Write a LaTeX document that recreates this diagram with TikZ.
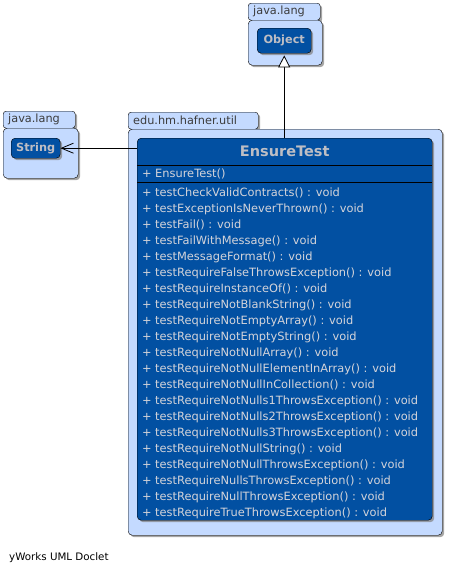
\documentclass[tikz,border=0pt]{standalone}
\usepackage{fontspec}
\setmainfont{DejaVu Sans}
\usetikzlibrary{arrows.meta, shadows}
\definecolor{pkgfill}{RGB}{196,218,255}
\definecolor{pkgtext}{RGB}{60,60,60}
\definecolor{clsfill}{RGB}{2,80,162}
\definecolor{clstext}{RGB}{212,212,218}
\definecolor{clstitle}{RGB}{190,190,196}
\tikzstyle{pkgtab} = [rectangle, rounded corners=3pt, draw=black, fill=pkgfill, anchor=north west, minimum height=17pt, inner xsep=5pt, inner ysep=0pt, align=left, text=pkgtext, font=\fontsize{11.3}{13}\selectfont, drop shadow={shadow xshift=2pt, shadow yshift=-2pt, opacity=.7}]
\tikzstyle{pkgbody} = [rectangle, rounded corners=4pt, draw=black, fill=pkgfill, anchor=north west, drop shadow={shadow xshift=2pt, shadow yshift=-2pt, opacity=.7}]
\tikzstyle{classbox} = [rectangle, rounded corners=4pt, draw=black, fill=clsfill, anchor=north west, text=clstitle, font=\bfseries\fontsize{11.3}{13}\selectfont, drop shadow={shadow xshift=2pt, shadow yshift=-2pt, opacity=.7}]
\tikzstyle{classname} = [inner sep=0pt, text=clstitle, font=\bfseries\fontsize{14.5}{16}\selectfont]
\tikzstyle{members} = [anchor=north west, inner sep=0pt, text=clstext, font=\fontsize{11.4}{16}\selectfont]
\tikzstyle{divider} = [line width=1.2pt, black]
\tikzstyle{inherit} = [-{Triangle[length=12pt, width=12pt, fill=white]}, line width=0.8pt]
\tikzstyle{depend} = [-{Straight Barb[length=12pt, width=10pt]}, line width=0.8pt]

\begin{document}
\begin{tikzpicture}[x=1pt, y=-1pt]
\useasboundingbox (0,0) rectangle (448,573);
%packages
\node (objtab) [pkgtab, text width=62pt] at (248,3) {java.lang};
\node (objpkg) [pkgbody, minimum width=74pt, minimum height=45pt] at (248,20) {};
\node (strtab) [pkgtab, text width=62pt] at (3,111) {java.lang};
\node (strpkg) [pkgbody, minimum width=75pt, minimum height=50pt] at (3,128) {};
\node (utiltab) [pkgtab, text width=120pt] at (128,112) {edu.hm.hafner.util};
\node (utilpkg) [pkgbody, minimum width=314pt, minimum height=406pt] at (128,129) {};

%classes
\node (object) [classbox, minimum width=54pt, minimum height=25pt] at (257,28) {Object};
\node (string) [classbox, minimum width=49pt, minimum height=20pt] at (11,138) {String};
\node (ensure) [classbox, minimum width=295pt, minimum height=382pt] at (137,138) {};
\node (title) [classname, minimum height=27pt, anchor=north] at (ensure.north) {EnsureTest};
\draw [divider] (title.south -| ensure.west) -- (title.south -| ensure.east);
\node (ctor) [members, xshift=5pt, yshift=-1pt] at (title.south -| ensure.west) {\begin{tabular}{@{}p{13pt}@{}l@{}}
+ & EnsureTest()
\end{tabular}};
\draw [divider] (ctor.south -| ensure.west) -- (ctor.south -| ensure.east);
\node (methods) [members, xshift=5pt, yshift=-2pt] at (ctor.south -| ensure.west) {\begin{tabular}{@{}p{13pt}@{}l@{}}
+ & testCheckValidContracts() : void\\
+ & testExceptionIsNeverThrown() : void\\
+ & testFail() : void\\
+ & testFailWithMessage() : void\\
+ & testMessageFormat() : void\\
+ & testRequireFalseThrowsException() : void\\
+ & testRequireInstanceOf() : void\\
+ & testRequireNotBlankString() : void\\
+ & testRequireNotEmptyArray() : void\\
+ & testRequireNotEmptyString() : void\\
+ & testRequireNotNullArray() : void\\
+ & testRequireNotNullElementInArray() : void\\
+ & testRequireNotNullInCollection() : void\\
+ & testRequireNotNulls1ThrowsException() : void\\
+ & testRequireNotNulls2ThrowsException() : void\\
+ & testRequireNotNulls3ThrowsException() : void\\
+ & testRequireNotNullString() : void\\
+ & testRequireNotNullThrowsException() : void\\
+ & testRequireNullsThrowsException() : void\\
+ & testRequireNullThrowsException() : void\\
+ & testRequireTrueThrowsException() : void
\end{tabular}};

%footer
\node (doclet) [anchor=base west, inner sep=0pt, font=\fontsize{10.3}{12}\selectfont] at (9,560) {yWorks UML Doclet};

%arrows
\draw [inherit, shorten >=2pt] (ensure.north -| object.south) -- (object.south);
\draw [depend] (ensure.west |- string) -- (string);
\end{tikzpicture}
\end{document}
